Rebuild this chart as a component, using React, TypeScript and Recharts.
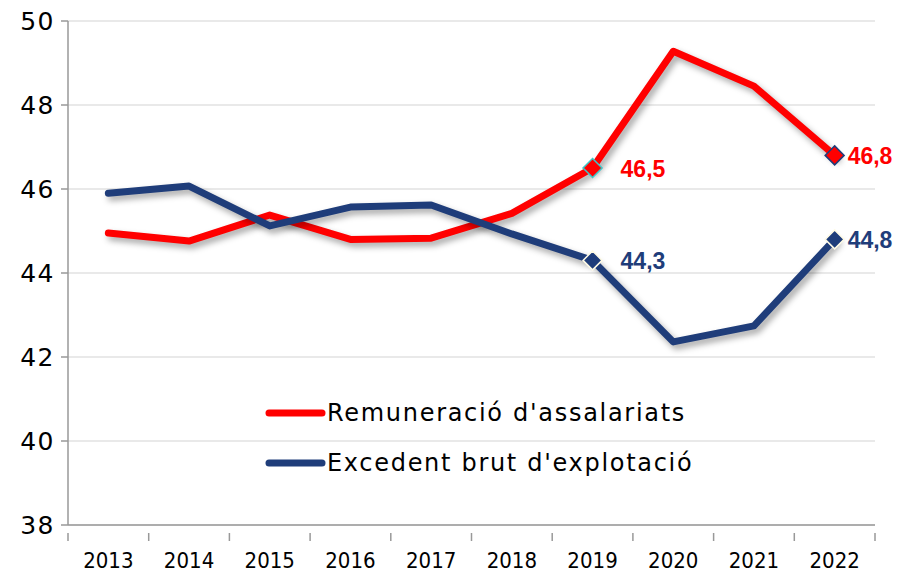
import React from 'react';
import { LineChart, Line, XAxis, YAxis, CartesianGrid } from 'recharts';

const years = ['2013', '2014', '2015', '2016', '2017', '2018', '2019', '2020', '2021', '2022'];
const remuneracio = [44.95, 44.76, 45.38, 44.8, 44.83, 45.42, 46.5, 49.28, 48.45, 46.8];
const excedent = [45.9, 46.07, 45.12, 45.57, 45.62, 44.93, 44.3, 42.36, 42.74, 44.8];
const yTicks = [38, 40, 42, 44, 46, 48, 50];
const labelledIdx = [6, 9];

const RED = '#ff0000';
const BLUE = '#1f3d7a';

const data = years.map((y, i) => ({
  pos: i + 0.5,
  year: y,
  rem: remuneracio[i],
  exc: excedent[i],
}));

const xTicks: number[] = [];
for (let i = 0; i <= years.length * 2; i++) xTicks.push(i / 2);

const XTick = (props: any) => {
  const { x, y, payload } = props;
  const v = payload.value as number;
  if (Number.isInteger(v)) {
    return <line x1={x} x2={x} y1={y} y2={y + 8} stroke="#999" strokeWidth={1.5} />;
  }
  const label = years[Math.floor(v)];
  return (
    <text x={x} y={y + 35} textAnchor="middle" fontSize={22} fill="#000" fontFamily="'DejaVu Sans Condensed', 'DejaVu Sans', sans-serif">
      {label}
    </text>
  );
};

const YTick = (props: any) => {
  const { x, y, payload } = props;
  return (
    <text x={x} y={y + 9} textAnchor="end" fontSize={25} fill="#000" fontFamily="'DejaVu Sans', sans-serif" letterSpacing={1.5}>
      {payload.value}
    </text>
  );
};

const makeDot = (fill: string, strokes: Record<number, string>) => (props: any) => {
  const { cx, cy, index } = props;
  if (!labelledIdx.includes(index)) return <g key={`d${index}`} />;
  const r = 9.5;
  return (
    <polygon
      key={`d${index}`}
      points={`${cx},${cy - r} ${cx + r},${cy} ${cx},${cy + r} ${cx - r},${cy}`}
      fill={fill}
      stroke={strokes[index]}
      strokeWidth={1.5}
    />
  );
};

const makeLabel = (color: string) => (props: any) => {
  const { x, y, value, index } = props;
  if (!labelledIdx.includes(index)) return <g key={`l${index}`} />;
  const dx = index === 6 ? 28 : 13;
  return (
    <text
      key={`l${index}`}
      x={x + dx}
      y={y + 9}
      fill={color}
      fontSize={23}
      fontWeight="bold"
      fontFamily="'Liberation Sans', Arial, sans-serif"
    >
      {String(value.toFixed(1)).replace('.', ',')}
    </text>
  );
};

const legendItems = [
  { name: "Remuneració d'assalariats", color: RED },
  { name: "Excedent brut d'explotació", color: BLUE },
];

const LegendBox = () => (
  <div style={{ position: 'absolute', left: 264, top: 388, width: 520 }}>
    {legendItems.map((it) => (
      <div key={it.name} style={{ display: 'flex', alignItems: 'center', height: 50 }}>
        <svg width={62} height={10} style={{ marginRight: 1 }}>
          <line x1={5} x2={58} y1={5} y2={5} stroke={it.color} strokeWidth={7} strokeLinecap="round" />
        </svg>
        <span style={{ fontSize: 24, fontFamily: "'DejaVu Sans', sans-serif", color: '#000', letterSpacing: 1.7, whiteSpace: 'nowrap' }}>{it.name}</span>
      </div>
    ))}
  </div>
);

export default function App() {
  return (
    <div style={{ position: 'absolute', left: 0, top: 0, width: 901, height: 572, background: '#fff' }}>
      <style>{`.recharts-line-curve { filter: drop-shadow(3px 4px 3px rgba(0,0,0,0.35)); }`}</style>
      <LineChart width={901} height={572} data={data} margin={{ top: 21, right: 26, bottom: 7, left: 0 }}>
        <CartesianGrid horizontal vertical={false} stroke="#d4d4d4" strokeWidth={1.2} />
        <XAxis
          dataKey="pos"
          type="number"
          domain={[0, years.length]}
          ticks={xTicks}
          interval={0}
          tickLine={false}
          tick={<XTick />}
          height={40}
          axisLine={{ stroke: '#999', strokeWidth: 1.5 }}
        />
        <YAxis
          domain={[38, 50]}
          ticks={yTicks}
          width={68}
          tickSize={7}
          tickMargin={6}
          axisLine={{ stroke: '#999', strokeWidth: 1.5 }}
          tickLine={{ stroke: '#999', strokeWidth: 1.5 }}
          tick={<YTick />}
        />
        <Line
          type="linear"
          dataKey="rem"
          name="Remuneració d'assalariats"
          stroke={RED}
          strokeWidth={7}
          strokeLinecap="round"
          strokeLinejoin="round"
          isAnimationActive={false}
          dot={makeDot(RED, { 6: '#3cc8c8', 9: BLUE })}
          activeDot={false}
          label={makeLabel(RED)}
        />
        <Line
          type="linear"
          dataKey="exc"
          name="Excedent brut d'explotació"
          stroke={BLUE}
          strokeWidth={7}
          strokeLinecap="round"
          strokeLinejoin="round"
          isAnimationActive={false}
          dot={makeDot(BLUE, { 6: '#fffbe6', 9: '#fffbe6' })}
          activeDot={false}
          label={makeLabel(BLUE)}
        />
      </LineChart>
      <LegendBox />
    </div>
  );
}
